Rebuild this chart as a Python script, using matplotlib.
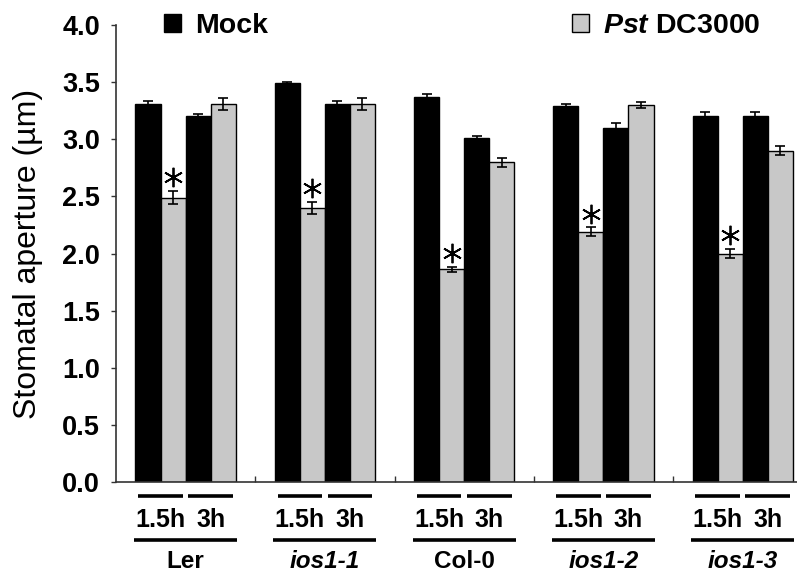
import numpy as np
import matplotlib.pyplot as plt
from matplotlib import font_manager

# stomatal aperture (um) per genotype: 1.5h mock, 1.5h Pst, 3h mock, 3h Pst
genotypes = ["Ler", "ios1-1", "Col-0", "ios1-2", "ios1-3"]
italic_names = [False, True, False, True, True]
times = ["1.5h", "3h"]

mock_15 = [3.31, 3.49, 3.37, 3.29, 3.20]
pst_15 = [2.49, 2.40, 1.86, 2.19, 2.00]
mock_3 = [3.20, 3.31, 3.01, 3.10, 3.20]
pst_3 = [3.31, 3.31, 2.80, 3.30, 2.90]

mock_15_err = [0.022, 0.015, 0.022, 0.022, 0.036]
pst_15_err = [0.058, 0.050, 0.025, 0.040, 0.040]
mock_3_err = [0.022, 0.022, 0.022, 0.040, 0.036]
pst_3_err = [0.050, 0.050, 0.040, 0.030, 0.042]

# significant difference from mock at 1.5h
signif_15 = [True, True, True, True, True]

names = {f.name for f in font_manager.fontManager.ttflist}
base_font = "Liberation Sans" if "Liberation Sans" in names else "DejaVu Sans"

plt.rcParams["font.family"] = base_font
plt.rcParams["mathtext.fontset"] = "custom"
plt.rcParams["mathtext.rm"] = base_font + ":bold"
plt.rcParams["mathtext.it"] = base_font + ":italic:bold"
plt.rcParams["mathtext.bf"] = base_font + ":bold"

fig = plt.figure(figsize=(7.97, 5.74), dpi=100)
ax = fig.add_axes([116 / 797, 1 - 482 / 574, 1 - 116 / 797, (482 - 25) / 574])

x = np.arange(len(genotypes))
w = 0.18
offsets = [-1.5 * w, -0.5 * w, 0.5 * w, 1.5 * w]
grey = "#c8c8c8"
err_kw = dict(ecolor="black", elinewidth=1.2, capsize=3.5, capthick=1.2)

ax.bar(x + offsets[0], mock_15, w, yerr=mock_15_err, color="black",
       edgecolor="black", linewidth=1, error_kw=err_kw, label="Mock")
ax.bar(x + offsets[1], pst_15, w, yerr=pst_15_err, color=grey,
       edgecolor="black", linewidth=1, error_kw=err_kw, label="Pst")
ax.bar(x + offsets[2], mock_3, w, yerr=mock_3_err, color="black",
       edgecolor="black", linewidth=1, error_kw=err_kw)
ax.bar(x + offsets[3], pst_3, w, yerr=pst_3_err, color=grey,
       edgecolor="black", linewidth=1, error_kw=err_kw)

# asterisks over the 1.5h infected bars
for xi, v, e, s in zip(x, pst_15, pst_15_err, signif_15):
    if s:
        ax.plot(xi + offsets[1], v + e + 0.12, marker=(6, 2, 0), ms=14,
                mew=1.3, color="black", clip_on=False)

ax.set_ylim(0, 4.0)
ax.set_xlim(-0.5, 4.39)
ax.set_yticks(np.arange(0, 4.01, 0.5))
ax.set_yticklabels([f"{v:.1f}" for v in np.arange(0, 4.01, 0.5)],
                   fontsize=19.5, fontweight="bold")
ax.set_xticks(x[:-1] + 0.5)
ax.set_xticklabels([])
ax.tick_params(axis="y", direction="out", length=3.5, width=1, pad=8, colors="#333333",
               labelcolor="black")
ax.tick_params(axis="x", direction="in", length=4, width=1, colors="#333333")

for side in ("top", "right"):
    ax.spines[side].set_visible(False)
for side in ("left", "bottom"):
    ax.spines[side].set_color("#333333")
    ax.spines[side].set_linewidth(1.2)

ax.set_ylabel("Stomatal aperture (\u00b5m)", fontsize=23)
ax.yaxis.set_label_coords(-0.107, 0.5)

# time and genotype labels below the axis
trans = ax.get_xaxis_transform()
for xi, name, it in zip(x, genotypes, italic_names):
    for k, t in enumerate(times):
        cx = xi + (offsets[2 * k] + offsets[2 * k + 1]) / 2
        ax.plot([cx - 0.16, cx + 0.16], [-0.031, -0.031], color="black", lw=2.6,
                transform=trans, clip_on=False, solid_capstyle="butt")
        ax.text(cx, -0.083, t, transform=trans, ha="center", va="center",
                fontsize=18, fontweight="bold")
    ax.plot([xi - 0.37, xi + 0.37], [-0.126, -0.126], color="black", lw=2.6,
            transform=trans, clip_on=False, solid_capstyle="butt")
    ax.text(xi, -0.175, name, transform=trans, ha="center", va="center",
            fontsize=17.5, fontweight="bold", style="italic" if it else "normal")

handles, labels = ax.get_legend_handles_labels()
fig.legend([handles[0]], ["Mock"], loc="center left",
           bbox_to_anchor=(164 / 797, 1 - 26 / 574), frameon=False,
           prop=dict(size=20.5, weight="bold"), handlelength=0.6,
           handleheight=0.6, handletextpad=0.5, borderpad=0, borderaxespad=0)
fig.legend([handles[1]], [r"$\mathit{Pst}$ DC3000"], loc="center left",
           bbox_to_anchor=(572 / 797, 1 - 26 / 574), frameon=False,
           prop=dict(size=20.5, weight="bold"), handlelength=0.6,
           handleheight=0.6, handletextpad=0.5, borderpad=0, borderaxespad=0)

fig.savefig("out.png", dpi=100)
